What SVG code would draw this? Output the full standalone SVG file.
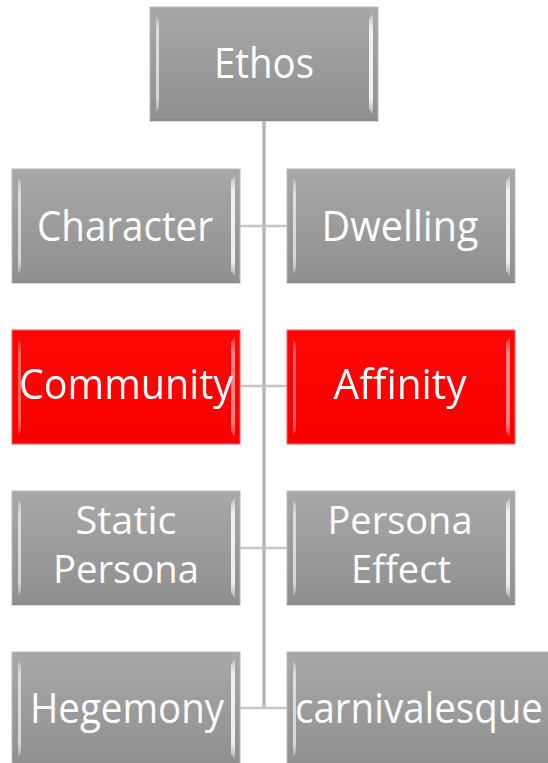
<svg xmlns="http://www.w3.org/2000/svg" xmlns:xlink="http://www.w3.org/1999/xlink" width="548" height="763" viewBox="0 0 548 763">
  <defs>
    <linearGradient id="gGray" x1="0" y1="0" x2="0" y2="1">
      <stop offset="0" stop-color="#a8a8a8"/>
      <stop offset="1" stop-color="#8f8f8f"/>
    </linearGradient>
    <linearGradient id="gRed" x1="0" y1="0" x2="0" y2="1">
      <stop offset="0" stop-color="#ff0707"/>
      <stop offset="1" stop-color="#f80000"/>
    </linearGradient>
    <linearGradient id="gShine" x1="0" y1="0" x2="0" y2="1">
      <stop offset="0" stop-color="#ffffff" stop-opacity="0.3"/>
      <stop offset="0.15" stop-color="#ffffff" stop-opacity="0.85"/>
      <stop offset="0.85" stop-color="#ffffff" stop-opacity="0.85"/>
      <stop offset="1" stop-color="#ffffff" stop-opacity="0.3"/>
    </linearGradient>
    <!-- bevelled box, 228 x 114 -->
    <g id="bevel">
      <path d="M6,9 L9,13 L9,101 L6,105 Z" fill="url(#gShine)" opacity="0.75"/>
      <path d="M223,7 L219,12 L219,102 L223,107 Z" fill="url(#gShine)"/>
      <rect x="0" y="112.5" width="228" height="1.5" fill="#6e6e6e" opacity="0.45"/>
    </g>
    <g id="boxGray">
      <rect x="0" y="0" width="228" height="114" fill="url(#gGray)" stroke="#b9b9b9" stroke-width="1"/>
      <use xlink:href="#bevel"/>
    </g>
    <g id="boxRed">
      <rect x="0" y="0" width="228" height="114" fill="url(#gRed)" stroke="#ff5a5a" stroke-width="1"/>
      <use xlink:href="#bevel" opacity="0.6"/>
    </g>
  </defs>
  <style>
    .trunk { stroke: #b7b7b7; stroke-width: 3.5; fill: none; }
    .branch { stroke: #c6c6c6; stroke-width: 2.5; fill: none; }
    .label { font-family: "Open Sans", "Liberation Sans", sans-serif; font-size: 42px; fill: #ffffff; text-anchor: middle; }
    .two { font-size: 38px; }
  </style>
  <rect width="548" height="763" fill="#ffffff"/>

  <g id="connectors">
    <line class="trunk" x1="264" y1="121" x2="264" y2="709"/>
    <line class="branch" x1="240" y1="226" x2="287" y2="226"/>
    <line class="branch" x1="240" y1="386" x2="287" y2="386"/>
    <line class="branch" x1="240" y1="548" x2="287" y2="548"/>
    <line class="branch" x1="240" y1="708" x2="287" y2="708"/>
  </g>

  <g id="ethos">
    <use xlink:href="#boxGray" x="150" y="7"/>
    <text class="label" x="264" y="78" textLength="100" lengthAdjust="spacingAndGlyphs">Ethos</text>
  </g>

  <g id="character">
    <use xlink:href="#boxGray" x="12" y="169"/>
    <text class="label" x="125" y="241" textLength="176" lengthAdjust="spacingAndGlyphs">Character</text>
  </g>
  <g id="dwelling">
    <use xlink:href="#boxGray" x="287" y="169"/>
    <text class="label" x="400" y="241" textLength="157" lengthAdjust="spacingAndGlyphs">Dwelling</text>
  </g>

  <g id="community">
    <use xlink:href="#boxRed" x="12" y="330"/>
    <text class="label" x="126" y="399" textLength="214" lengthAdjust="spacingAndGlyphs">Community</text>
  </g>
  <g id="affinity">
    <use xlink:href="#boxRed" x="287" y="330"/>
    <text class="label" x="400" y="399" textLength="133" lengthAdjust="spacingAndGlyphs">Affinity</text>
  </g>

  <g id="static-persona">
    <use xlink:href="#boxGray" x="12" y="491"/>
    <text class="label two" x="126" y="534" textLength="101" lengthAdjust="spacingAndGlyphs">Static</text>
    <text class="label two" x="126" y="583" textLength="146" lengthAdjust="spacingAndGlyphs">Persona</text>
  </g>
  <g id="persona-effect">
    <use xlink:href="#boxGray" x="287" y="491"/>
    <text class="label two" x="400" y="534" textLength="145" lengthAdjust="spacingAndGlyphs">Persona</text>
    <text class="label two" x="401" y="583" textLength="100" lengthAdjust="spacingAndGlyphs">Effect</text>
  </g>

  <g id="hegemony">
    <use xlink:href="#boxGray" x="12" y="652"/>
    <text class="label" x="127" y="723" textLength="194" lengthAdjust="spacingAndGlyphs">Hegemony</text>
  </g>
  <g id="carnivalesque">
    <rect x="287" y="652" width="290" height="114" fill="url(#gGray)" stroke="#b9b9b9" stroke-width="1"/>
    <path d="M293,661 L296,665 L296,753 L293,757 Z" fill="url(#gShine)" opacity="0.75"/>
    <text class="label" x="419" y="723" textLength="248" lengthAdjust="spacingAndGlyphs">carnivalesque</text>
  </g>
</svg>
